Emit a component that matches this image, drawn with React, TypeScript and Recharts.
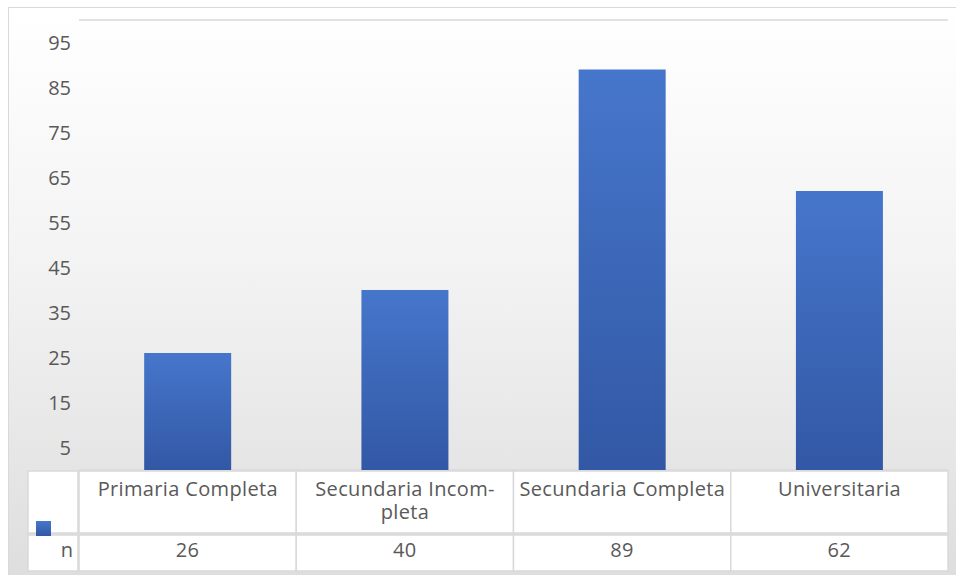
import { BarChart, Bar, XAxis, YAxis, CartesianGrid } from 'recharts';

const categories = ['Primaria Completa', 'Secundaria Incompleta', 'Secundaria Completa', 'Universitaria'];
const categoryLines = [['Primaria Completa'], ['Secundaria Incom-', 'pleta'], ['Secundaria Completa'], ['Universitaria']];
const nValues = [26, 40, 89, 62];
const seriesName = 'n';
const yTicks = [5, 15, 25, 35, 45, 55, 65, 75, 85, 95];
const gridTicks = [0, 10, 20, 30, 40, 50, 60, 70, 80, 90, 100];

const data = categories.map((c, i) => ({ category: c, n: nValues[i] }));

const W = 947;
const H = 567;
const PLOT_LEFT = 70;
const PLOT_RIGHT = 939;
const COL_W = (PLOT_RIGHT - PLOT_LEFT) / categories.length;
const ROW1_TOP = 463;
const ROW1_BOTTOM = 525;
const ROW2_TOP = 527;
const ROW2_BOTTOM = 563;
const FONT = '"Open Sans", sans-serif';
const TEXT = '#595959';
const BORDER = '#d9d9d9';
const LS = 0.35;

function TableTick(props: any) {
  const { x, payload, index } = props;
  const left = x - COL_W / 2;
  const lines = categoryLines[index] || [payload.value];
  return (
    <g>
      {index === 0 && (
        <g>
          <rect x={19} y={ROW1_TOP} width={PLOT_LEFT - 20} height={ROW1_BOTTOM - ROW1_TOP} fill="#fff" stroke={BORDER} strokeWidth={1.5} />
          <rect x={19} y={ROW2_TOP} width={PLOT_LEFT - 20} height={ROW2_BOTTOM - ROW2_TOP} fill="#fff" stroke={BORDER} strokeWidth={1.5} />
          <rect x={27} y={513} width={15} height={15} fill="url(#barGrad)" />
          <text x={64} y={549} textAnchor="end" fontSize={20} fontFamily={FONT} fill={TEXT}>
            {seriesName}
          </text>
        </g>
      )}
      <rect x={left} y={ROW1_TOP} width={COL_W} height={ROW1_BOTTOM - ROW1_TOP} fill="#fff" stroke={BORDER} strokeWidth={1.5} />
      <rect x={left} y={ROW2_TOP} width={COL_W} height={ROW2_BOTTOM - ROW2_TOP} fill="#fff" stroke={BORDER} strokeWidth={1.5} />
      <text textAnchor="middle" fontSize={20} letterSpacing={LS} fontFamily={FONT} fill={TEXT}>
        {lines.map((l: string, i: number) => (
          <tspan key={i} x={x + LS / 2} y={488 + i * 23}>
            {l}
          </tspan>
        ))}
      </text>
      <text x={x} y={549} textAnchor="middle" fontSize={20} letterSpacing={LS} fontFamily={FONT} fill={TEXT}>
        {nValues[index]}
      </text>
    </g>
  );
}

export default function App() {
  return (
    <div>
      <style>{'body{margin:0}'}</style>
      <div
        style={{
          position: 'absolute',
          left: 8,
          top: 7,
          width: W,
          height: H,
          borderTop: `1px solid ${BORDER}`,
          borderLeft: `1px solid ${BORDER}`,
          background: 'linear-gradient(to bottom, #ffffff 0%, #f3f3f3 45%, #dedede 100%)',
        }}
      >
        <BarChart
          width={W}
          height={H}
          data={data}
          margin={{ top: 12, right: W - PLOT_RIGHT, bottom: 4, left: 0 }}
          barCategoryGap="30%"
        >
          <defs>
            <linearGradient id="barGrad" x1="0" y1="0" x2="0" y2="1">
              <stop offset="0%" stopColor="#4676cb" />
              <stop offset="100%" stopColor="#3258a5" />
            </linearGradient>
          </defs>
          <CartesianGrid yAxisId="grid" vertical={false} stroke={BORDER} strokeWidth={1.5} />
          <XAxis
            dataKey="category"
            axisLine={false}
            tickLine={false}
            height={101}
            interval={0}
            tick={<TableTick />}
          />
          <YAxis
            domain={[0, 100]}
            ticks={yTicks}
            width={PLOT_LEFT}
            axisLine={false}
            tickLine={false}
            tick={{ fontSize: 20, fontFamily: FONT, fill: TEXT }}
          />
          <YAxis yAxisId="grid" hide domain={[0, 100]} ticks={gridTicks} />
          <Bar dataKey="n" fill="url(#barGrad)" isAnimationActive={false} />
        </BarChart>
      </div>
    </div>
  );
}
